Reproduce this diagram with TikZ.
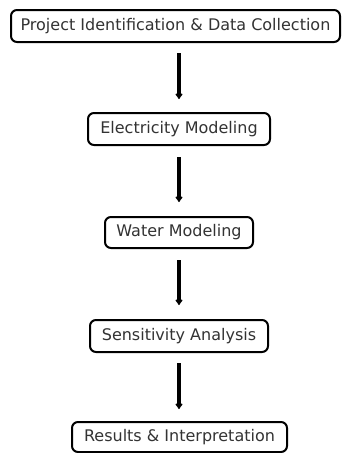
\documentclass[tikz,border=0pt]{standalone}
\usepackage{fontspec}
\setmainfont{DejaVu Sans}
\usetikzlibrary{arrows.meta}
\begin{document}
\begin{tikzpicture}[x=1pt,y=1pt,
  stepbox/.style={draw=black, line width=2pt, rounded corners=6pt, fill=white,
    font=\fontsize{16}{19}\selectfont, text=black!80, inner xsep=0pt, inner ysep=0pt, anchor=center},
  flow/.style={line width=3.2pt, -{Latex[length=6pt,width=9pt,round]}, shorten >=0pt}]
\useasboundingbox (0,0) rectangle (342,-453);
\node[stepbox, minimum width=329pt, minimum height=32pt] (a) at (175.5,-26) {Project Identification \& Data Collection};
\node[stepbox, minimum width=182pt, minimum height=32pt] (b) at (179,-129) {Electricity Modeling};
\node[stepbox, minimum width=148pt, minimum height=31pt] (c) at (179,-232.5) {Water Modeling};
\node[stepbox, minimum width=178pt, minimum height=32pt] (d) at (179,-336) {Sensitivity Analysis};
\node[stepbox, minimum width=215pt, minimum height=30pt] (e) at (179.5,-437) {Results \& Interpretation};
\coordinate (a1) at (179,-53); \coordinate (a2) at (179,-99);
\coordinate (b1) at (179,-157); \coordinate (b2) at (179,-202);
\coordinate (c1) at (179,-260); \coordinate (c2) at (179,-305);
\coordinate (d1) at (179,-363); \coordinate (d2) at (179,-409);
\draw[flow] (a1) -- (a2);
\draw[flow] (b1) -- (b2);
\draw[flow] (c1) -- (c2);
\draw[flow] (d1) -- (d2);
\end{tikzpicture}
\end{document}
